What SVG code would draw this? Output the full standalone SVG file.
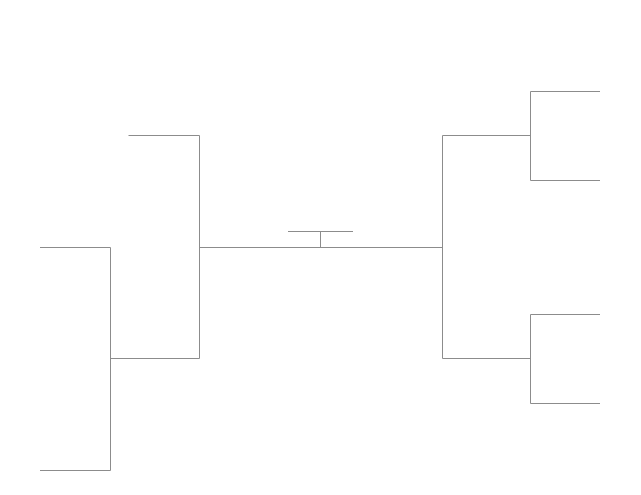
<svg xmlns="http://www.w3.org/2000/svg" width="641" height="495" viewBox="0 0 641 495">
<style>.l{fill:none;stroke:#8c8c8c;stroke-width:1}</style>
<rect width="641" height="495" fill="#fff"/>
<g id="connectors">
<path class="l" d="M128.5 135.5H199.5V358.5H110.5"/>
<path class="l" d="M40 247.5H110.5V470.5H40"/>
<path class="l" d="M199.5 247.5H442.5"/>
<path class="l" d="M288 231.5H353M320.5 231.5V247.5"/>
<path class="l" d="M530.5 135.5H442.5V358.5H530.5"/>
<path class="l" d="M600 91.5H530.5V180.5H600"/>
<path class="l" d="M600 314.5H530.5V403.5H600"/>
</g>
</svg>
